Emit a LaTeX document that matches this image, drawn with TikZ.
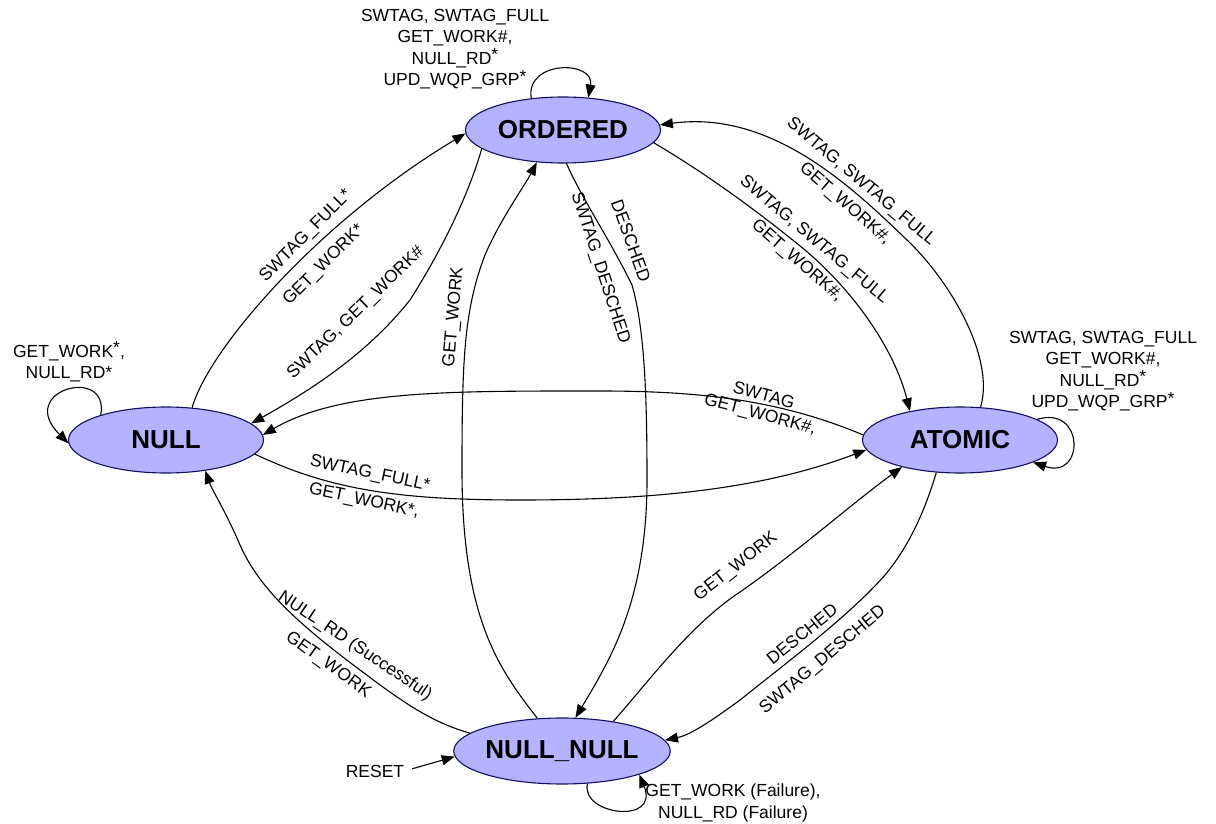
\documentclass[tikz,border=0pt]{standalone}
\usepackage{fontspec}
\setmainfont{Liberation Sans}
\usetikzlibrary{shapes.geometric,arrows.meta}
\definecolor{statefill}{RGB}{179,179,255}
\definecolor{stateline}{RGB}{16,16,96}
\newcommand{\upstar}{\raisebox{3.5pt}{*}}

\begin{document}
\begin{tikzpicture}[x=1pt,y=-1pt,
  state/.style={ellipse, draw=stateline, fill=statefill, line width=1.1pt,
    minimum width=195pt, minimum height=66pt, inner sep=0pt,
    font=\fontsize{26}{28}\selectfont\bfseries},
  lbl/.style={font=\fontsize{17.5}{21.5}\selectfont, align=center, inner sep=0pt},
  tr/.style={line width=1.1pt, -{Triangle[length=13pt,width=10pt]}}]
\useasboundingbox (0,0) rectangle (1216,824);
\fill[white] (0,0) rectangle (1216,824);

% states
\node[state] (ord) at (563,130) {ORDERED};
\node[state] (nul) at (166,440) {NULL};
\node[state] (atm) at (960,440) {ATOMIC};
\node[state] (nn)  at (562,751) {NULL\_NULL};

% self loops
\draw[tr] (ord.135) .. controls (525,60) and (595,60) .. (ord.52);
\draw[tr] (nul.159) .. controls (110,365) and (15,390) .. (nul.182);
\draw[tr] (atm.15) .. controls (1085,405) and (1085,480) .. (atm.-17);
\draw[tr] (nn.308) .. controls (580,815) and (660,825) .. (nn.-17);

% reset entry
\node[lbl] (rst) at (375,771) {RESET};
\draw[tr, shorten <=8pt] (rst.east) -- (nn.183);

% ORDERED <-> NULL
\draw[tr] (nul.51) .. controls (208,350) and (318,222) .. (ord.182);
\draw[tr] (ord.193) .. controls (470,190) and (445,245) .. (410,300)
          .. controls (370,350) and (320,385) .. (nul.11);

% ATOMIC <-> NULL
\draw[tr] (atm.177) .. controls (780,400) and (700,391) .. (600,391)
          .. controls (450,391) and (340,390) .. (nul.3);
\draw[tr] (nul.-9) .. controls (330,490) and (400,500) .. (520,500)
          .. controls (650,500) and (760,490) .. (atm.186);

% ORDERED <-> ATOMIC
\draw[tr] (ord.-8) .. controls (700,170) and (750,205) .. (805,250)
          .. controls (850,288) and (893,345) .. (atm.150);
\draw[tr] (atm.58) .. controls (995,360) and (953,284) .. (907,240)
          .. controls (850,185) and (770,110) .. (ord.3);

% ORDERED <-> NULL_NULL
\draw[tr] (nn.127) .. controls (500,670) and (462,620) .. (462,470)
          .. controls (462,360) and (464,310) .. (485,255)
          .. controls (500,220) and (525,185) .. (ord.231);
\draw[tr] (ord.276) .. controls (580,195) and (610,240) .. (632,285)
          .. controls (645,330) and (647,400) .. (647,480)
          .. controls (647,600) and (610,660) .. (nn.68);

% ATOMIC <-> NULL_NULL
\draw[tr] (nn.30) .. controls (650,680) and (690,625) .. (740,592)
          .. controls (800,550) and (850,505) .. (atm.205);
\draw[tr] (atm.234) .. controls (925,510) and (910,545) .. (885,575)
          .. controls (850,615) and (790,660) .. (740,700)
          .. controls (710,722) and (690,735) .. (nn.6);

% NULL_NULL -> NULL
\draw[tr] (nn.169) .. controls (430,722) and (400,700) .. (360,670)
          .. controls (300,625) and (260,590) .. (240,545)
          .. controls (225,510) and (212,490) .. (nul.322);

% loop labels
\node[lbl] (lord) at (455,49) {SWTAG, SWTAG\_FULL\\GET\_WORK\#,\\NULL\_RD\upstar\\UPD\_WQP\_GRP\upstar};
\node[lbl] (lnul) at (69,362) {GET\_WORK\upstar,\\NULL\_RD*};
\node[lbl] (latm) at (1103,371) {SWTAG, SWTAG\_FULL\\GET\_WORK\#,\\NULL\_RD\upstar\\UPD\_WQP\_GRP\upstar};
\node[lbl] (lnn) at (733,803) {GET\_WORK (Failure),\\NULL\_RD (Failure)};

% transition labels
\node[lbl, rotate=45] (a1) at (306,236) {SWTAG\_FULL*};
\node[lbl, rotate=45] (a2) at (324,265) {GET\_WORK*};
\node[lbl, rotate=44] (b1) at (356,313) {SWTAG, GET\_WORK\#};
\node[lbl, rotate=-40] (c1) at (814,240) {SWTAG, SWTAG\_FULL};
\node[lbl, rotate=-41] (c2) at (797,261) {GET\_WORK\#,};
\node[lbl, rotate=-40] (d1) at (861,182) {SWTAG, SWTAG\_FULL};
\node[lbl, rotate=-41] (d2) at (845,204) {GET\_WORK\#,};
\node[lbl, rotate=-15] (e1) at (764,395) {SWTAG};
\node[lbl, rotate=-15] (e2) at (760,415) {GET\_WORK\#,};
\node[lbl, rotate=-12] (f1) at (370,474) {SWTAG\_FULL*};
\node[lbl, rotate=-12] (f2) at (364,501) {GET\_WORK*,};
\node[lbl, rotate=85] (g1) at (454,317) {GET\_WORK};
\node[lbl, rotate=-72] (h1) at (600,268) {SWTAG\_DESCHED};
\node[lbl, rotate=-70] (h2) at (631,241) {DESCHED};
\node[lbl, rotate=38] (i1) at (736,567) {GET\_WORK};
\node[lbl, rotate=39] (j1) at (802,634) {DESCHED};
\node[lbl, rotate=40] (j2) at (823,660) {SWTAG\_DESCHED};
\node[lbl, rotate=-34] (k1) at (355,646) {NULL\_RD (Successful)};
\node[lbl, rotate=-36] (k2) at (328,665) {GET\_WORK};
\end{tikzpicture}
\end{document}
